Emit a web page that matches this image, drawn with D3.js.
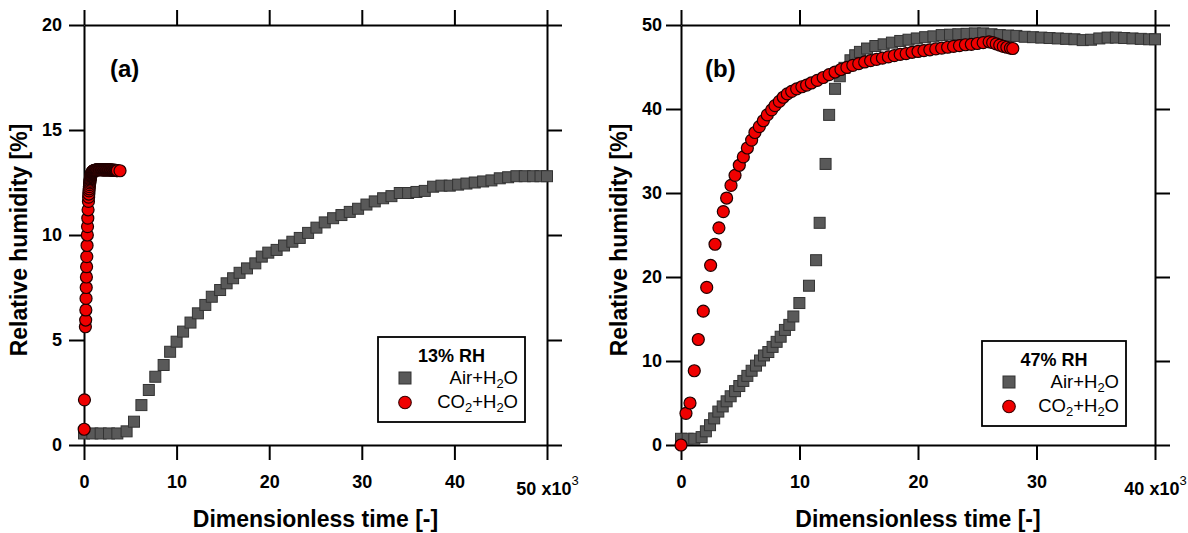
<!DOCTYPE html>
<html><head><meta charset="utf-8">
<script src="https://cdn.jsdelivr.net/npm/d3@7"></script>
<style>
body{margin:0;background:#fff}
svg{display:block}
text{font-family:"Liberation Sans",Arial,Helvetica,sans-serif}
</style>
</head><body>
<svg id="chart" width="1188" height="533"></svg>
<script>
// ---------- DATA (x in units of 10^3) ----------
const xTicksA = [0, 10, 20, 30, 40, 50];
const xTickLabelsA = ["0", "10", "20", "30", "40", "50 x10"];
const yTicksA = [0, 5, 10, 15, 20];
const xTicksB = [0, 10, 20, 30, 40];
const xTickLabelsB = ["0", "10", "20", "30", "40 x10"];
const yTicksB = [0, 10, 20, 30, 40, 50];
const seriesNames = ["Air+H2O", "CO2+H2O"];
const legendTitles = ["13% RH", "47% RH"];

const airA = [[0,0.55],[0.9,0.55],[1.8,0.55],[2.7,0.55],[3.6,0.55],[4.6,0.65],[5.4,1.11],[6.2,1.9],[7.0,2.62],[7.7,3.25],[8.6,3.81],[9.3,4.44],[10.0,4.92],[10.7,5.4],[11.5,5.83],[12.3,6.27],[13.1,6.67],[13.8,7.06],[14.7,7.38],[15.4,7.7],[16.1,7.94],[16.8,8.2],[17.6,8.41],[18.5,8.65],[19.2,8.97],[19.9,9.16],[20.8,9.29],[21.6,9.5],[22.5,9.68],[23.3,9.86],[24.2,10.1],[25.1,10.35],[26.0,10.6],[26.9,10.8],[27.8,10.95],[28.7,11.1],[29.6,11.25],[30.5,11.45],[31.4,11.6],[32.3,11.75],[33.2,11.85],[34.1,12.0],[35.0,12.0],[35.9,12.05],[36.8,12.1],[37.7,12.3],[38.6,12.35],[39.5,12.35],[40.4,12.4],[41.3,12.45],[42.2,12.5],[43.1,12.55],[44.0,12.6],[44.9,12.7],[45.8,12.75],[46.7,12.8],[47.6,12.8],[48.5,12.8],[49.3,12.8],[50.0,12.8]];

const co2A = [[0.02,0.75],[0.05,2.15],[0.15,5.63],[0.18,5.95],[0.2,6.43],[0.22,6.98],[0.24,7.5],[0.26,8.0],[0.28,8.49],[0.3,8.97],[0.33,9.5],[0.36,10.0],[0.38,10.4],[0.41,10.8],[0.44,11.2],[0.48,11.6],[0.5,11.8],[0.52,11.95],[0.54,12.1],[0.56,12.2],[0.58,12.3],[0.6,12.4],[0.62,12.48],[0.64,12.55],[0.66,12.62],[0.68,12.68],[0.7,12.73],[0.72,12.78],[0.74,12.82],[0.76,12.86],[0.78,12.89],[0.8,12.92],[0.83,12.95],[0.85,12.97],[0.88,12.99],[0.9,13.0],[0.93,13.02],[0.95,13.03],[0.98,13.04],[1.0,13.05],[1.05,13.06],[1.1,13.07],[1.15,13.08],[1.2,13.08],[1.25,13.09],[1.3,13.09],[1.35,13.1],[1.42,13.1],[1.5,13.1],[1.58,13.1],[1.65,13.11],[1.72,13.11],[1.8,13.11],[1.88,13.11],[1.95,13.1],[2.02,13.1],[2.1,13.1],[2.18,13.1],[2.25,13.1],[2.32,13.1],[2.4,13.1],[2.48,13.1],[2.55,13.1],[2.62,13.1],[2.7,13.1],[2.78,13.1],[2.85,13.1],[2.92,13.09],[3.0,13.09],[3.08,13.09],[3.15,13.09],[3.22,13.08],[3.3,13.08],[3.38,13.08],[3.45,13.08],[3.52,13.07],[3.6,13.07],[3.89,13.06]];

const airB = [[0,0.74],[0.56,0.74],[1.12,0.74],[1.74,0.94],[2.1,1.63],[2.45,2.36],[2.8,3.17],[3.15,3.98],[3.52,4.59],[3.85,5.2],[4.19,5.8],[4.56,6.41],[4.92,7.02],[5.26,7.63],[5.6,8.23],[5.96,8.84],[6.33,9.45],[6.67,10.06],[7.0,10.66],[7.37,11.07],[7.73,11.68],[8.07,12.28],[8.41,12.89],[8.77,13.7],[9.14,14.3],[9.48,15.3],[9.99,16.9],[10.8,18.96],[11.4,22.0],[11.7,26.45],[12.2,33.46],[12.5,39.3],[13.0,42.4],[13.4,43.9],[13.8,44.9],[14.3,45.8],[14.7,46.4],[15.1,46.8],[15.7,47.2],[16.4,47.5],[17.1,47.7],[17.8,47.9],[18.5,48.1],[19.2,48.25],[19.9,48.4],[20.6,48.55],[21.3,48.65],[22.0,48.8],[22.7,48.85],[23.4,48.9],[24.1,48.95],[24.8,49.0],[25.5,49.0],[26.2,48.9],[26.9,48.8],[27.6,48.75],[28.3,48.7],[29.0,48.6],[29.7,48.55],[30.4,48.5],[31.1,48.45],[31.8,48.4],[32.5,48.35],[33.2,48.3],[33.9,48.2],[34.6,48.25],[35.3,48.4],[36.0,48.5],[36.7,48.5],[37.4,48.45],[38.1,48.4],[38.8,48.35],[39.5,48.3],[40.0,48.3]];

const co2B = [[0,0],[0.42,3.77],[0.76,5.0],[1.12,8.84],[1.46,12.56],[1.88,15.93],[2.17,18.76],[2.5,21.39],[2.87,23.9],[3.2,25.85],[3.57,27.79],[3.85,29.4],[4.22,30.9],[4.56,32.1],[4.92,33.3],[5.26,34.3],[5.6,35.36],[5.96,36.3],[6.24,37.2],[6.61,37.9],[6.95,38.6],[7.28,39.3],[7.65,39.9],[7.93,40.4],[8.3,40.9],[8.63,41.4],[8.97,41.8],[9.34,42.1],[9.76,42.4],[10.2,42.65],[10.6,42.85],[11.0,43.1],[11.5,43.4],[12.0,43.75],[12.5,44.1],[13.0,44.4],[13.5,44.7],[14.0,44.95],[14.5,45.2],[15.0,45.4],[15.5,45.6],[16.0,45.75],[16.5,45.9],[17.0,46.05],[17.5,46.2],[18.0,46.35],[18.5,46.5],[19.0,46.6],[19.5,46.75],[20.0,46.85],[20.5,46.95],[21.0,47.05],[21.5,47.15],[22.0,47.25],[22.5,47.35],[23.0,47.45],[23.5,47.55],[24.0,47.65],[24.5,47.7],[25.0,47.8],[25.5,47.9],[26.0,48.0],[26.3,47.9],[26.6,47.75],[26.9,47.6],[27.2,47.45],[27.5,47.35],[27.8,47.25],[28.0,47.2]];

// ---------- DRAWING ----------
const svg = d3.select("#chart");
const FONT_TICK = 18;

function subText(sel, parts) {
  parts.forEach(([t, sub], i) => {
    const ts = sel.append("tspan").text(t);
    if (sub) ts.attr("font-size", 13).attr("dy", 4);
    else if (i > 0 && parts[i-1][1]) ts.attr("dy", -4);
  });
}
function labelParts(name) {
  return name === "Air+H2O" ? [["Air+H",0],["2",1],["O",0]] : [["CO",0],["2",1],["+H",0],["2",1],["O",0]];
}

function panel(cfg) {
  const g = svg.append("g");
  const x = d3.scaleLinear().domain(cfg.xDomain).range(cfg.xRange);
  const y = d3.scaleLinear().domain(cfg.yDomain).range(cfg.yRange);
  const [x0, x1] = cfg.xRange, [yb, yt] = cfg.yRange;

  const styleAxis = a => {
    a.selectAll("path.domain").attr("stroke", "#000").attr("stroke-width", 2);
    a.selectAll(".tick line").attr("stroke", "#000").attr("stroke-width", 2);
    a.selectAll(".tick text").attr("font-size", FONT_TICK).attr("font-weight", "bold").attr("fill", "#000")
      .attr("font-family", '"Liberation Sans",Arial,sans-serif');
  };

  const bottom = g.append("g").attr("transform", `translate(0,${yb})`)
    .call(d3.axisBottom(x).tickValues(cfg.xTicks).tickSize(15).tickSizeOuter(0).tickPadding(15)
      .tickFormat((d, i) => cfg.xTickLabels[i]));
  styleAxis(bottom);
  const lastTxt = bottom.selectAll(".tick text").filter((d, i, n) => i === n.length - 1);
  lastTxt.attr("y", 37);
  lastTxt.append("tspan").text("3").attr("font-size", 13).attr("font-weight", "normal").attr("dy", -10);

  const top = g.append("g").attr("transform", `translate(0,${yt})`)
    .call(d3.axisTop(x).tickValues(cfg.xTicks).tickSize(15).tickSizeOuter(0).tickFormat(""));
  styleAxis(top);
  const left = g.append("g").attr("transform", `translate(${x0},0)`)
    .call(d3.axisLeft(y).tickValues(cfg.yTicks).tickSize(15).tickSizeOuter(0).tickPadding(cfg.yPad));
  styleAxis(left);
  const right = g.append("g").attr("transform", `translate(${x1},0)`)
    .call(d3.axisRight(y).tickValues(cfg.yTicks).tickSize(15).tickSizeOuter(0).tickFormat(""));
  styleAxis(right);

  g.append("text").attr("x", (x0 + x1) / 2).attr("y", 527).attr("text-anchor", "middle")
    .attr("font-size", 23).attr("font-weight", "bold").text("Dimensionless time [-]");
  g.append("text").attr("transform", `translate(${cfg.yTitleX},${(yb + yt) / 2 + 5}) rotate(-90)`)
    .attr("text-anchor", "middle").attr("font-size", 23).attr("font-weight", "bold").text("Relative humidity [%]");

  g.append("text").attr("x", cfg.labelX).attr("y", 77).attr("font-size", 24).attr("font-weight", "bold").text(cfg.label);

  const S = 11;
  g.append("g").selectAll("rect").data(cfg.air).join("rect")
    .attr("x", d => x(d[0]) - S / 2).attr("y", d => y(d[1]) - S / 2)
    .attr("width", S).attr("height", S)
    .attr("fill", "#595959").attr("stroke", "#333").attr("stroke-width", 1);
  g.append("g").selectAll("circle").data(cfg.co2).join("circle")
    .attr("cx", d => x(d[0])).attr("cy", d => y(d[1])).attr("r", 6)
    .attr("fill", "#f00000").attr("stroke", "#200000").attr("stroke-width", 1.2);

  const L = cfg.legend;
  const lg = g.append("g").attr("transform", `translate(${L.x},${L.y})`);
  lg.append("rect").attr("width", L.w).attr("height", L.h).attr("fill", "#fff").attr("stroke", "#000").attr("stroke-width", 1.8);
  lg.append("text").attr("x", L.w / 2).attr("y", 25).attr("text-anchor", "middle")
    .attr("font-size", 18).attr("font-weight", "bold").text(cfg.title);
  lg.append("rect").attr("x", 27 - 6).attr("y", 41 - 6).attr("width", 12).attr("height", 12)
    .attr("fill", "#595959").attr("stroke", "#333");
  lg.append("circle").attr("cx", 27).attr("cy", 65.5).attr("r", 6.3)
    .attr("fill", "#f00000").attr("stroke", "#3a0000").attr("stroke-width", 1.1);
  subText(lg.append("text").attr("x", L.w - 7).attr("y", 47).attr("text-anchor", "end").attr("font-size", 18.5), labelParts(seriesNames[0]));
  subText(lg.append("text").attr("x", L.w - 7).attr("y", 71).attr("text-anchor", "end").attr("font-size", 18.5), labelParts(seriesNames[1]));
}

panel({
  xDomain: [0, 50], yDomain: [0, 20], xRange: [84, 547], yRange: [445, 25],
  xTicks: xTicksA, xTickLabels: xTickLabelsA, yTicks: yTicksA, yPad: 7,
  air: airA, co2: co2A, title: legendTitles[0], label: "(a)", labelX: 110, yTitleX: 27,
  legend: {x: 378, y: 337, w: 147, h: 85}
});
panel({
  xDomain: [0, 40], yDomain: [0, 50], xRange: [681, 1155], yRange: [445, 25],
  xTicks: xTicksB, xTickLabels: xTickLabelsB, yTicks: yTicksB, yPad: 4,
  air: airB, co2: co2B, title: legendTitles[1], label: "(b)", labelX: 705, yTitleX: 627,
  legend: {x: 982, y: 341, w: 144, h: 85}
});
</script>
</body></html>
